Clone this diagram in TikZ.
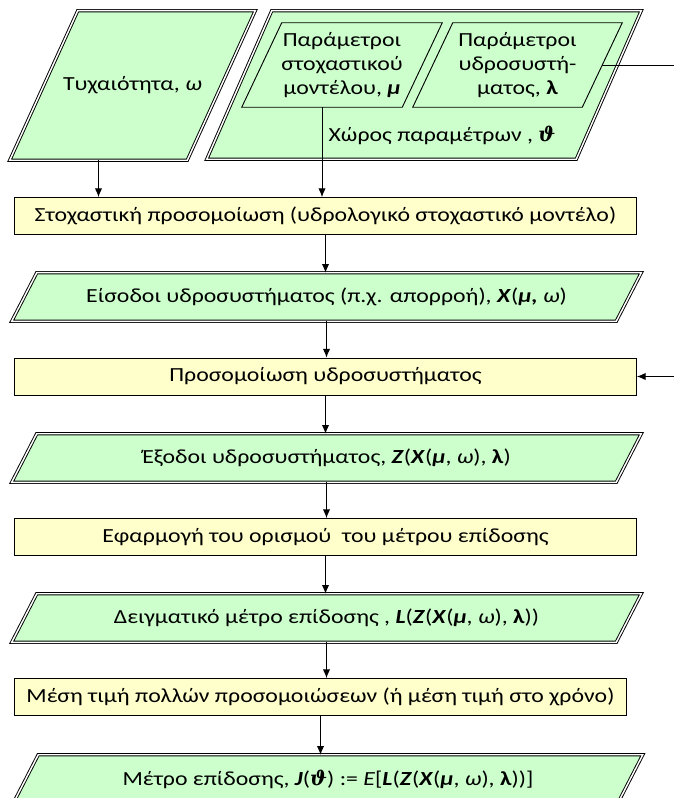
\documentclass[tikz,border=0pt]{standalone}
\usepackage{fontspec}
\setmainfont{Carlito}[FakeStretch=1.19]
\newfontfamily\thetafont{DejaVu Serif}
\usetikzlibrary{arrows.meta,backgrounds}

\definecolor{paragreen}{HTML}{CCFFCC}
\definecolor{procyellow}{HTML}{FFFFCC}
\newcommand{\bfit}[1]{\textbf{\textit{#1}}}
\newcommand{\thetab}{{\thetafont\bfseries\itshape ϑ}}

\begin{document}
\begin{tikzpicture}[
  x=0.75pt, y=-0.75pt,
  every node/.style={font=\fontsize{15}{18}\selectfont},
  slot/.style={rectangle, inner sep=0pt, align=center},
  databox/.style={slot, minimum width=471.75pt, minimum height=36pt},
  procbox/.style={rectangle, draw, line width=0.7pt, fill=procyellow, inner sep=0pt,
    minimum width=466.5pt, minimum height=27.75pt},
  dblline/.style={draw, double, double distance=1.1pt, line width=0.7pt, fill=paragreen},
  sglline/.style={draw, line width=0.7pt, fill=paragreen},
  arrow/.style={->, >={Latex[length=6.5pt, width=5.5pt]}, line width=0.7pt}
]
  \useasboundingbox (0,0) rectangle (674,798);
  \coordinate (rim) at (674,0);

  % Inputs (top)
  \node[slot, minimum width=183.75pt, minimum height=111.75pt] (tych) at (132.5,85.5) {Τυχαιότητα, \textit{ω}};
  \node[slot, minimum width=325.5pt, minimum height=111pt] (space) at (424,85) {};
  \node[slot, minimum width=150pt, minimum height=63pt] (stoch) at (342,65) {Παράμετροι\\στοχαστικού\\μοντέλου, \bfit{μ}};
  \node[slot, minimum width=156.75pt, minimum height=63pt] (hydro) at (517.5,65) {Παράμετροι\\υδροσυστή-\\ματος, \textbf{λ}};
  \node (spacelbl) at (442,135) {Χώρος παραμέτρων , \thetab};

  % Simulation chain
  \node[procbox] (stochsim) at (325.5,216) {Στοχαστική προσομοίωση (υδρολογικό στοχαστικό μοντέλο)};
  \node[databox] (inputs) at (326.5,297) {Είσοδοι υδροσυστήματος (π.χ. απορροή), \bfit{X}(\bfit{μ,} \textit{ω})};
  \node[procbox] (syssim) at (325.5,376.5) {Προσομοίωση υδροσυστήματος};
  \node[databox] (outputs) at (326.5,458) {Έξοδοι υδροσυστήματος, \bfit{Z}(\bfit{X}(\bfit{μ}, \textit{ω}), \textbf{λ})};
  \node[procbox] (perfdef) at (325.5,537) {Εφαρμογή του ορισμού~ του μέτρου επίδοσης};
  \node[databox] (sample) at (326.5,618) {Δειγματικό μέτρο επίδοσης , \bfit{L}(\bfit{Z}(\bfit{X}(\bfit{μ}, \textit{ω}), \textbf{λ}))};
  \node[procbox, minimum width=459pt] (mean) at (320.5,697) {Μέση τιμή πολλών προσομοιώσεων (ή μέση τιμή στο χρόνο)};
  \node[databox] (measure) at (328,779) {Μέτρο επίδοσης, \bfit{J}(\thetab) := \textit{E}[\bfit{L}(\bfit{Z}(\bfit{X}(\bfit{μ}, \textit{ω}), \textbf{λ}))]};

  % Parallelogram outlines behind the texts
  \begin{scope}[on background layer]
    \draw[dblline] ([xshift=51pt]tych.north west) -- (tych.north east) -- ([xshift=-51pt]tych.south east) -- (tych.south west) -- cycle;
    \draw[dblline] ([xshift=48.75pt]space.north west) -- (space.north east) -- ([xshift=-48.75pt]space.south east) -- (space.south west) -- cycle;
    \foreach \n in {stoch,hydro}
      \draw[sglline] ([xshift=30pt]\n.north west) -- (\n.north east) -- ([xshift=-30pt]\n.south east) -- (\n.south west) -- cycle;
    \foreach \n in {inputs,outputs,sample,measure}
      \draw[dblline] ([xshift=18.75pt]\n.north west) -- (\n.north east) -- ([xshift=-18.75pt]\n.south east) -- (\n.south west) -- cycle;
  \end{scope}

  % Arrows
  \draw[arrow] ([xshift=-25.5pt]tych.south) -- ([xshift=-25.5pt]tych.south |- stochsim.north);
  \draw[arrow] ([xshift=-15pt]stoch.south) -- ([xshift=-15pt]stoch.south |- stochsim.north);
  \draw[arrow] (stochsim.south) -- (stochsim.south |- inputs.north);
  \draw[arrow] (inputs.south) -- (inputs.south |- syssim.north);
  \draw[arrow] (syssim.south) -- (syssim.south |- outputs.north);
  \draw[arrow] (outputs.south) -- (outputs.south |- perfdef.north);
  \draw[arrow] (perfdef.south) -- (perfdef.south |- sample.north);
  \draw[arrow] (sample.south) -- (sample.south |- mean.north);
  \draw[arrow] (mean.south) -- (mean.south |- measure.north);
  \draw[line width=0.7pt] ([xshift=-15pt]hydro.east) -- (hydro.east -| rim);
  \draw[arrow] (syssim.east -| rim) -- (syssim.east);
\end{tikzpicture}
\end{document}
